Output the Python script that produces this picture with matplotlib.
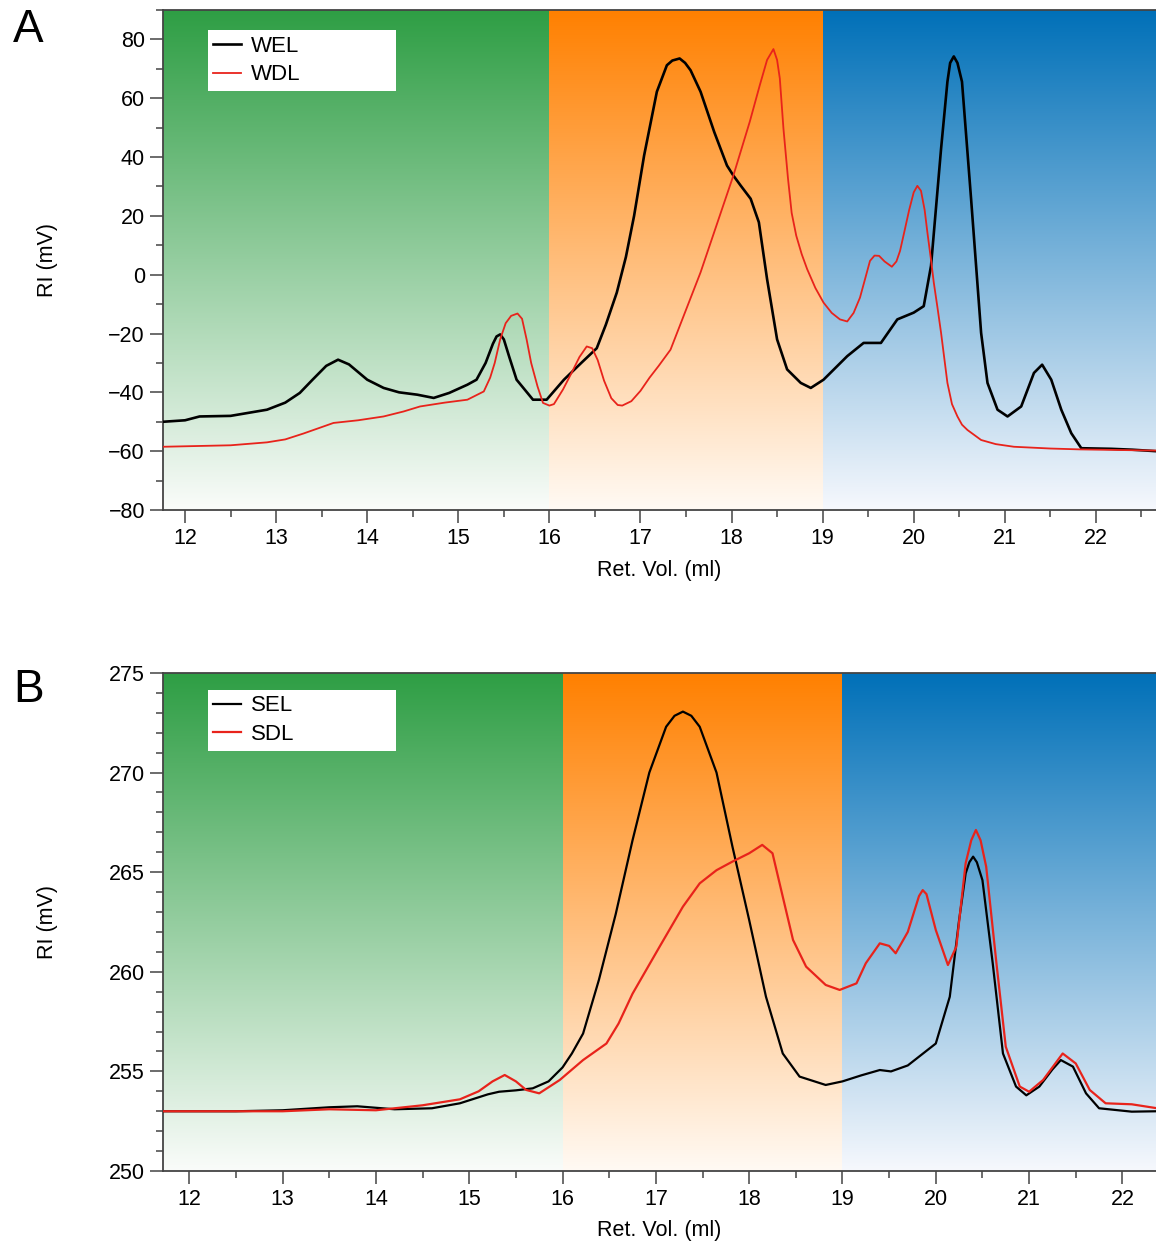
import numpy as np
import matplotlib
matplotlib.use('Agg')
import matplotlib.pyplot as plt
from matplotlib.ticker import MultipleLocator

plt.rcParams['font.family'] = ['Liberation Sans', 'DejaVu Sans']

# ---- panel A data ----
wel_x = [11.76, 12.0, 12.16, 12.5, 12.9, 13.1, 13.26, 13.4, 13.55, 13.68, 13.8, 14.0, 14.18,
         14.35, 14.55, 14.73, 14.9, 15.1, 15.2, 15.3, 15.38, 15.42, 15.46, 15.5, 15.56, 15.64,
         15.82, 15.97, 16.16, 16.35, 16.52, 16.62, 16.74, 16.84, 16.93, 17.04, 17.18, 17.29,
         17.35, 17.43, 17.49, 17.55, 17.66, 17.81, 17.95, 18.02, 18.1, 18.21, 18.3, 18.39,
         18.5, 18.61, 18.76, 18.87, 19.01, 19.27, 19.45, 19.64, 19.82, 20.0, 20.11, 20.19,
         20.3, 20.37, 20.4, 20.44, 20.48, 20.53, 20.63, 20.74, 20.81, 20.92, 21.03, 21.18,
         21.32, 21.41, 21.51, 21.62, 21.73, 21.84, 22.17, 22.4, 22.66]
wel_y = [-50, -49.5, -48.2, -48, -45.9, -43.5, -40.2, -35.7, -31, -28.9, -30.5, -35.7, -38.5,
         -40, -40.8, -41.9, -40.2, -37.4, -35.7, -30, -23.5, -21, -20.3, -22, -28, -35.7,
         -42.5, -42.5, -35.7, -30, -25, -17, -6.1, 6, 20.0, 40.5, 62.2, 71.2,
         72.8, 73.5, 72, 69.5, 62.2, 48.5, 37.1, 33.7, 30.3, 25.8, 17.8, -1.5,
         -22, -32.2, -36.8, -38.5, -35.7, -27.7, -23.2, -23.2, -15.2, -12.9, -10.7, 3,
         42.7, 65.6, 72, 74.2, 72, 65.6, 25.7, -19.8, -36.8, -45.9, -48.2, -44.8,
         -33.4, -30.6, -35.7, -45.9, -53.9, -59, -59.2, -59.5, -60]

wdl_x = [11.76, 12.5, 12.9, 13.1, 13.3, 13.63, 13.9, 14.18, 14.4, 14.58, 14.85, 15.1, 15.28,
         15.35, 15.4, 15.46, 15.52, 15.58, 15.65, 15.7, 15.75, 15.8, 15.87, 15.93, 16.0, 16.05,
         16.15, 16.25, 16.33, 16.41, 16.47, 16.53, 16.6, 16.68, 16.75, 16.8, 16.9, 17.0, 17.1,
         17.2, 17.33, 17.66, 18.02, 18.2, 18.31, 18.39, 18.46, 18.5, 18.53, 18.57, 18.62,
         18.66, 18.71, 18.77, 18.83, 18.92, 19.01, 19.1, 19.19, 19.27, 19.34, 19.41, 19.47,
         19.52, 19.57, 19.62, 19.68, 19.76, 19.81, 19.85, 19.9, 19.95, 20.0, 20.04, 20.08,
         20.12, 20.15, 20.19, 20.22, 20.26, 20.3, 20.37, 20.42, 20.48, 20.53, 20.59, 20.74,
         20.9, 21.1, 21.5, 21.83, 22.66]
wdl_y = [-58.5, -58, -57, -56, -54, -50.4, -49.5, -48.2, -46.5, -44.8, -43.5, -42.5, -39.7,
         -35, -30, -22, -16.5, -14, -13.2, -15, -22, -30, -38, -43.6, -44.5, -44,
         -39, -33, -28, -24.4, -25, -29, -36, -42, -44.3, -44.5, -43, -39.5, -35,
         -31, -25.5, 0.8, 33.7, 52, 64.4, 73, 76.7, 73, 66.7, 49.6, 32.6,
         21, 13.3, 7, 1.9, -4.5, -9.5, -13, -15.2, -15.9, -13, -7.8, -1,
         4.7, 6.5, 6.4, 4.5, 2.7, 4.5, 8.1, 15, 22, 28, 30.2, 28.5,
         22, 14.4, 5, -2.6, -11, -19.7, -36.8, -44, -48.2, -51, -52.8, -56.2,
         -57.6, -58.5, -59.1, -59.4, -59.8]

# ---- panel B data ----
sel_x = [11.72, 12.5, 13.0, 13.5, 13.8, 14.2, 14.6, 14.9, 15.1, 15.2, 15.32, 15.5, 15.68,
         15.85, 16.0, 16.1, 16.22, 16.39, 16.57, 16.75, 16.93, 17.11, 17.2, 17.29, 17.38,
         17.47, 17.65, 17.82, 18.0, 18.18, 18.36, 18.54, 18.82, 19.0, 19.2, 19.4, 19.52, 19.7,
         19.82, 20.0, 20.15, 20.25, 20.32, 20.36, 20.4, 20.44, 20.5, 20.61, 20.72, 20.86,
         20.97, 21.11, 21.25, 21.34, 21.47, 21.61, 21.75, 22.1, 22.36]
sel_y = [253.0, 253.0, 253.05, 253.2, 253.25, 253.1, 253.15, 253.4, 253.7, 253.85, 253.98,
         254.05, 254.15, 254.5, 255.2, 255.9, 256.9, 259.6, 262.9, 266.6, 270.0, 272.3,
         272.85, 273.06, 272.85, 272.3, 270.0, 266.3, 262.6, 258.75, 255.9, 254.74, 254.32,
         254.5, 254.8, 255.07, 255.0, 255.3, 255.74, 256.4, 258.75, 262.6, 264.94, 265.5,
         265.78, 265.5, 264.6, 260.43, 255.9, 254.24, 253.8, 254.24, 255.1, 255.57, 255.24,
         253.9, 253.15, 252.98, 253.0]

sdl_x = [11.72, 12.5, 13.0, 13.5, 14.0, 14.5, 14.9, 15.1, 15.25, 15.38, 15.5, 15.61, 15.75,
         15.97, 16.22, 16.47, 16.6, 16.75, 17.04, 17.29, 17.47, 17.65, 17.82, 18.0, 18.14,
         18.25, 18.36, 18.47, 18.61, 18.82, 18.97, 19.15, 19.25, 19.4, 19.5, 19.57, 19.7,
         19.82, 19.86, 19.9, 20.0, 20.13, 20.22, 20.32, 20.38, 20.43, 20.48, 20.54, 20.65,
         20.75, 20.9, 21.0, 21.15, 21.36, 21.5, 21.65, 21.82, 22.1, 22.36]
sdl_y = [253.0, 253.0, 253.0, 253.1, 253.05, 253.3, 253.6, 254.0, 254.5, 254.82, 254.5,
         254.07, 253.9, 254.57, 255.57, 256.4, 257.4, 258.9, 261.26, 263.27, 264.44, 265.1,
         265.53, 265.95, 266.37, 265.95, 263.77, 261.6, 260.26, 259.34, 259.09, 259.42,
         260.43, 261.43, 261.3, 260.93, 262.0, 263.8, 264.1, 263.9, 262.1, 260.34, 261.26,
         265.45, 266.6, 267.12, 266.6, 265.28, 260.43, 256.24, 254.24, 253.98, 254.57, 255.9,
         255.4, 254.07, 253.4, 253.35, 253.16]

region_edges = [16, 19]
region_top = [(46, 158, 68), (255, 128, 0), (0, 112, 184)]
region_bot = [(250, 252, 250), (255, 250, 244), (246, 248, 253)]


def shade(ax, xlim, ylim):
    bounds = [xlim[0]] + region_edges + [xlim[1]]
    t = np.linspace(0, 1, 256)[:, None]
    for i in range(3):
        c0 = np.array(region_top[i]) / 255.
        c1 = np.array(region_bot[i]) / 255.
        img = (c0 * (1 - t) + c1 * t)[:, None, :]
        ax.imshow(img, extent=(bounds[i], bounds[i + 1], ylim[0], ylim[1]),
                  aspect='auto', origin='upper', zorder=0, interpolation='bilinear')


def style(ax, xlim, ylim, ymaj, ymin):
    ax.set_xlim(xlim)
    ax.set_ylim(ylim)
    ax.xaxis.set_major_locator(MultipleLocator(1))
    ax.xaxis.set_minor_locator(MultipleLocator(0.5))
    ax.yaxis.set_major_locator(MultipleLocator(ymaj))
    ax.yaxis.set_minor_locator(MultipleLocator(ymin))
    ax.tick_params(which='major', direction='out', length=9.5, width=1.1, color='#444444',
                   labelsize=15.5, pad=3.5)
    ax.tick_params(which='minor', direction='out', length=5, width=1.1, color='#444444')
    ax.tick_params(axis='x', which='both', top=False)
    ax.spines['right'].set_visible(False)
    for s in ['left', 'bottom', 'top']:
        ax.spines[s].set_color('#444444')
        ax.spines[s].set_linewidth(1.3)
    ax.set_xlabel('Ret. Vol. (ml)', fontsize=15.5)
    ax.set_ylabel('RI (mV)', fontsize=15.5)
    ax.yaxis.set_label_coords(-0.106, 0.5)
    ax.xaxis.set_label_coords(0.5, -0.099)


fig = plt.figure(figsize=(11.56, 12.43), dpi=100)
axA = fig.add_axes([0.141, 0.5897, 0.859, 0.4023])
axB = fig.add_axes([0.141, 0.0579, 0.859, 0.4007])

xlimA, ylimA = (11.758, 22.66), (-80, 90)
shade(axA, xlimA, ylimA)
axA.plot(wel_x, wel_y, color='black', lw=1.9, label='WEL', zorder=3)
axA.plot(wdl_x, wdl_y, color='#e8231b', lw=1.3, label='WDL', zorder=3)
style(axA, xlimA, ylimA, 20, 10)

xlimB, ylimB = (11.718, 22.36), (250, 275)
shade(axB, xlimB, ylimB)
axB.plot(sel_x, sel_y, color='black', lw=1.6, label='SEL', zorder=3)
axB.plot(sdl_x, sdl_y, color='#e8231b', lw=1.6, label='SDL', zorder=3)
style(axB, xlimB, ylimB, 5, 1)

for ax, top in [(axA, 0.96), (axB, 0.966)]:
    leg = ax.legend(loc='upper left', bbox_to_anchor=(0.045, top, 0.19, 0), mode='expand',
                    fontsize=16, frameon=True, fancybox=False, framealpha=1,
                    edgecolor='none', facecolor='white', handlelength=1.25,
                    labelspacing=0.35, borderpad=0.25, handletextpad=0.45, borderaxespad=0)

fig.text(0.0243, 0.976, 'A', fontsize=33, va='center', ha='center')
fig.text(0.0243, 0.445, 'B', fontsize=33, va='center', ha='center')

fig.savefig('out.png', dpi=100)
